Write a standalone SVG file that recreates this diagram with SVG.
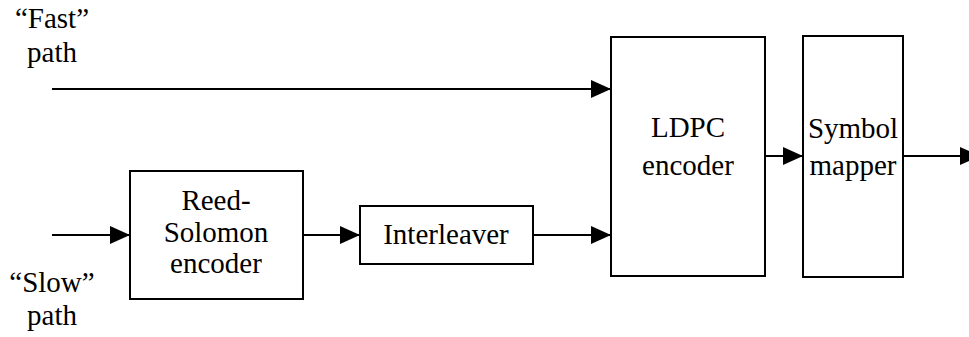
<svg xmlns="http://www.w3.org/2000/svg" width="969" height="337" viewBox="0 0 969 337">
<style>
.box{fill:#fff;stroke:#000;stroke-width:2}
.ln{stroke:#000;stroke-width:2;fill:none}
</style>
<defs>
<marker id="ah" markerUnits="userSpaceOnUse" markerWidth="20" markerHeight="18" refX="20" refY="9" orient="auto">
<path d="M0,0 L20,9 L0,18 Z" fill="#000"/>
</marker>
</defs>
<g font-family="Liberation Serif, Times New Roman, DejaVu Serif, serif" font-size="29" fill="#000" text-anchor="middle">
<g id="labels">
<text x="52" y="28">“Fast”</text>
<text x="52" y="62">path</text>
<text x="52" y="292">“Slow”</text>
<text x="52" y="325">path</text>
</g>
<g id="rs">
<rect class="box" x="130" y="171" width="173" height="128"/>
<text x="216" y="210">Reed-</text>
<text x="216" y="242">Solomon</text>
<text x="216" y="273">encoder</text>
</g>
<g id="interleaver">
<rect class="box" x="360" y="206" width="173" height="58"/>
<text x="446" y="244">Interleaver</text>
</g>
<g id="ldpc">
<rect class="box" x="611" y="37" width="154" height="239"/>
<text x="688" y="137">LDPC</text>
<text x="688" y="175">encoder</text>
</g>
<g id="mapper">
<rect class="box" x="803" y="36" width="100" height="241"/>
<text x="853" y="138">Symbol</text>
<text x="853" y="175">mapper</text>
</g>
</g>
<g id="connectors">
<line class="ln" x1="52" y1="89" x2="611" y2="89" marker-end="url(#ah)"/>
<line class="ln" x1="52" y1="235" x2="130" y2="235" marker-end="url(#ah)"/>
<line class="ln" x1="303" y1="235" x2="360" y2="235" marker-end="url(#ah)"/>
<line class="ln" x1="533" y1="235" x2="611" y2="235" marker-end="url(#ah)"/>
<line class="ln" x1="765" y1="156" x2="803" y2="156" marker-end="url(#ah)"/>
<line class="ln" x1="903" y1="156" x2="980" y2="156" marker-end="url(#ah)"/>
</g>
</svg>
